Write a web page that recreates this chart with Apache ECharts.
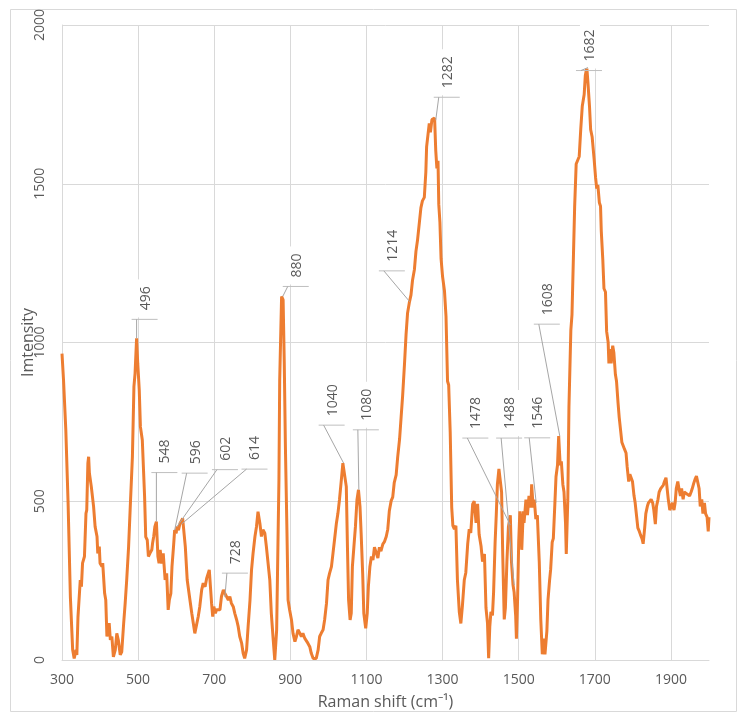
<!DOCTYPE html>
<html>
<head>
<meta charset="utf-8">
<script src="https://cdn.jsdelivr.net/npm/echarts@6/dist/echarts.min.js"></script>
<style>
  html, body { margin: 0; padding: 0; background: #fff; }
  #main { width: 745px; height: 721px; }
</style>
</head>
<body>
<div id="main"></div>
<script>
// spectrum
let ramanShift = [300,302,304,307,310,316,322,328,332,337,339,342,348,351,354,359,363,365,368,370,372,377,383,387,392,394,398,400,405,407,412,415,418,420,424,427,431,435,440,444,448,453,457,462,466,470,475,479,485,489,492,496,499,503,506,511,517,520,524,527,531,536,538,541,544,548,552,555,558,562,566,571,575,579,582,586,589,593,596,600,602,606,610,614,617,621,624,629,635,641,645,649,654,658,662,667,671,676,680,684,687,690,693,696,699,703,706,711,715,719,724,728,732,737,741,745,750,754,759,763,767,772,776,780,785,789,794,798,802,807,811,815,820,824,828,833,837,842,846,850,855,859,864,866,870,872,875,877,881,884,887,891,894,898,903,907,912,916,920,925,929,933,938,942,946,951,955,960,964,968,973,977,981,986,990,995,999,1003,1008,1012,1016,1021,1025,1029,1034,1038,1043,1047,1050,1053,1057,1060,1063,1067,1071,1075,1079,1083,1086,1090,1093,1098,1102,1105,1109,1113,1117,1121,1125,1130,1134,1138,1143,1147,1152,1156,1160,1165,1169,1173,1178,1182,1187,1191,1195,1200,1204,1208,1213,1217,1221,1226,1230,1234,1239,1243,1247,1252,1256,1258,1261,1265,1268,1272,1275,1279,1282,1285,1288,1290,1293,1296,1300,1305,1309,1313,1316,1320,1324,1327,1331,1335,1339,1344,1348,1352,1357,1361,1366,1370,1374,1379,1383,1388,1392,1396,1401,1405,1410,1414,1418,1421,1424,1427,1431,1434,1438,1441,1444,1448,1451,1455,1458,1462,1465,1469,1473,1478,1481,1485,1488,1492,1494,1497,1500,1503,1506,1508,1512,1514,1519,1523,1527,1532,1534,1538,1541,1545,1549,1554,1558,1562,1565,1569,1574,1577,1581,1584,1588,1591,1595,1598,1602,1605,1609,1612,1616,1619,1623,1625,1629,1632,1637,1640,1644,1647,1651,1654,1659,1663,1667,1672,1675,1679,1682,1686,1689,1693,1698,1702,1705,1708,1712,1715,1717,1721,1724,1728,1731,1735,1737,1740,1743,1747,1750,1754,1757,1761,1764,1768,1771,1775,1778,1782,1785,1789,1792,1796,1799,1803,1806,1810,1813,1817,1820,1824,1827,1831,1834,1838,1841,1845,1848,1852,1855,1859,1862,1866,1869,1873,1876,1880,1883,1887,1890,1893,1897,1901,1904,1908,1911,1914,1918,1921,1925,1928,1932,1935,1939,1942,1946,1949,1953,1956,1960,1963,1967,1970,1974,1977,1981,1984,1988,1991,1995,1998,2000];
let intensity = [965,961,882,880,725,494,199,32,5,32,16,136,252,231,305,326,462,472,620,640,588,546,483,420,389,336,357,305,294,305,210,189,74,95,116,63,74,10,32,84,63,16,26,115,179,252,357,472,640,861,903,1013,934,850,735,693,515,388,378,326,336,347,368,389,420,436,326,305,347,304,336,252,273,158,189,210,294,357,409,399,420,409,430,428,446,441,357,252,199,147,116,84,89,137,168,221,242,231,257,263,284,231,179,137,168,147,158,152,158,200,221,210,210,189,200,179,168,147,126,105,74,53,21,5,32,105,189,284,336,389,420,467,430,389,410,399,357,357,252,147,63,0,95,252,567,882,1040,1145,1134,935,672,410,189,158,126,84,58,74,95,84,74,84,68,74,53,42,21,5,10,5,32,74,84,95,126,179,252,273,294,336,378,431,462,504,567,620,620,546,357,189,126,147,294,357,420,504,536,483,399,273,147,100,147,231,294,326,315,355,350,321,355,343,365,372,389,412,469,502,513,559,583,639,696,764,832,934,1025,1093,1128,1150,1196,1230,1287,1321,1378,1424,1446,1457,1537,1616,1622,1690,1662,1702,1696,1707,1605,1548,1572,1435,1378,1264,1207,1162,1082,878,866,718,480,423,412,423,252,150,115,170,252,275,366,412,400,491,500,432,492,395,359,310,334,164,116,6,104,152,140,213,371,456,553,602,608,529,334,128,164,310,420,456,310,237,213,140,67,189,371,468,432,347,468,432,505,456,517,480,553,480,505,444,456,310,128,18,67,18,91,189,249,286,371,383,492,577,614,705,614,626,553,529,432,334,505,796,1039,1088,1282,1428,1562,1562,1586,1671,1744,1781,1841,1866,1817,1744,1671,1647,1580,1519,1485,1496,1440,1429,1350,1260,1170,1159,1035,1001,934,979,934,990,968,900,878,810,765,720,686,686,664,652,608,562,585,579,562,517,495,450,416,405,394,382,366,416,461,484,495,495,506,495,472,428,484,506,529,540,540,551,562,574,540,506,472,467,495,472,495,540,562,540,517,540,506,529,523,523,517,517,529,540,557,568,579,585,540,484,506,461,495,461,450,405,450];

// labelled peaks
let peakShift = [496,548,596,602,614,728,880,1040,1080,1214,1282,1478,1488,1546,1608,1682];
let peakIntensity = [1013,436,409,420,428,198,1145,620,536,1128,1700,425,236,495,705,1866];
let peakLabels = ['496','548','596','602','614','728','880','1040','1080','1214','1282','1478','1488','1546','1608','1682'];

// where each callout bracket sits, in px from its peak
let calloutOffset = [[-5,-19],[-5,-49],[7,-57],[35,-57],[60,-55],[-3,-24],[0,-10],[-25,-38],[-6,-60],[-31,-31],[-2,-23],[-48,-87],[-18,-147],[-12,-65],[-26,-112],[-12,3]];

let xTicks = [300,500,700,900,1100,1300,1500,1700,1900];

let textColor = '#595959';
let gridColor = '#d9d9d9';
let fontName = '"Open Sans", sans-serif';

function spectrumData() {
    let data = [];
    for (let i = 0; i < ramanShift.length; i++) {
        data.push([ramanShift[i], intensity[i]]);
    }
    return data;
}

function peakData() {
    let data = [];
    for (let i = 0; i < peakShift.length; i++) {
        data.push([peakShift[i], peakIntensity[i]]);
    }
    return data;
}

//callout: leader line + bracket + vertical text on a white box
function renderCallout(params, api) {
    let p = api.coord([api.value(0), api.value(1)]);
    let off = calloutOffset[params.dataIndex];
    let bx = p[0] + off[0];
    let by = p[1] + off[1];
    return {
        type: 'group',
        children: [
            {
                type: 'text',
                x: bx + 14,
                y: by - 2,
                rotation: Math.PI / 2,
                style: {
                    text: peakLabels[params.dataIndex],
                    fill: textColor,
                    font: '14px ' + fontName,
                    align: 'left',
                    verticalAlign: 'middle',
                    backgroundColor: '#fff',
                    padding: [3, 7, 3, 7]
                }
            },
            {
                type: 'line',
                shape: { x1: bx, y1: by, x2: bx + 26, y2: by },
                style: { stroke: '#bfbfbf', lineWidth: 1 }
            },
            {
                type: 'line',
                shape: { x1: bx + 5, y1: by, x2: p[0], y2: p[1] },
                style: { stroke: '#a6a6a6', lineWidth: 1 }
            }
        ]
    };
}

//plain numbers, no thousands separator
function plain(v) {
    return String(v);
}

let myChart = echarts.init(document.getElementById('main'));

let option = {
    animation: false,
    backgroundColor: '#fff',
    grid: { left: 62, right: 36, top: 25, bottom: 61, containLabel: false },
    graphic: [{
        type: 'rect',
        shape: { x: 10.5, y: 9.5, width: 726, height: 702 },
        style: { fill: 'none', stroke: gridColor, lineWidth: 1 },
        silent: true
    }],
    xAxis: {
        type: 'value',
        min: 300,
        max: 2000,
        name: 'Raman shift (cm\u207B\u00B9)',
        nameLocation: 'middle',
        nameGap: 34,
        nameMoveOverlap: false,
        nameTextStyle: { color: textColor, fontSize: 16, fontFamily: fontName },
        axisLine: { show: true, lineStyle: { color: gridColor } },
        axisTick: { show: false, customValues: xTicks },
        axisLabel: { customValues: xTicks, formatter: plain, color: textColor, fontSize: 14, fontFamily: fontName, margin: 13 },
        splitLine: { show: true, lineStyle: { color: gridColor, width: 1 } }
    },
    yAxis: {
        type: 'value',
        min: 0,
        max: 2000,
        interval: 500,
        name: 'Imtensity',
        nameLocation: 'middle',
        nameGap: 26,
        nameMoveOverlap: false,
        nameTextStyle: { color: textColor, fontSize: 16, fontFamily: fontName },
        axisLine: { show: true, lineStyle: { color: gridColor } },
        axisTick: { show: false },
        axisLabel: { rotate: 90, formatter: plain, color: textColor, fontSize: 14, fontFamily: fontName, margin: 15 },
        splitLine: { show: true, lineStyle: { color: gridColor, width: 1 } }
    },
    series: [
        {
            type: 'line',
            data: spectrumData(),
            showSymbol: false,
            lineStyle: { color: '#ED7D31', width: 3 },
            itemStyle: { color: '#ED7D31' },
            z: 2
        },
        {
            type: 'custom',
            data: peakData(),
            renderItem: renderCallout,
            silent: true,
            z: 3
        }
    ]
};
myChart.setOption(option);
</script>
</body>
</html>
